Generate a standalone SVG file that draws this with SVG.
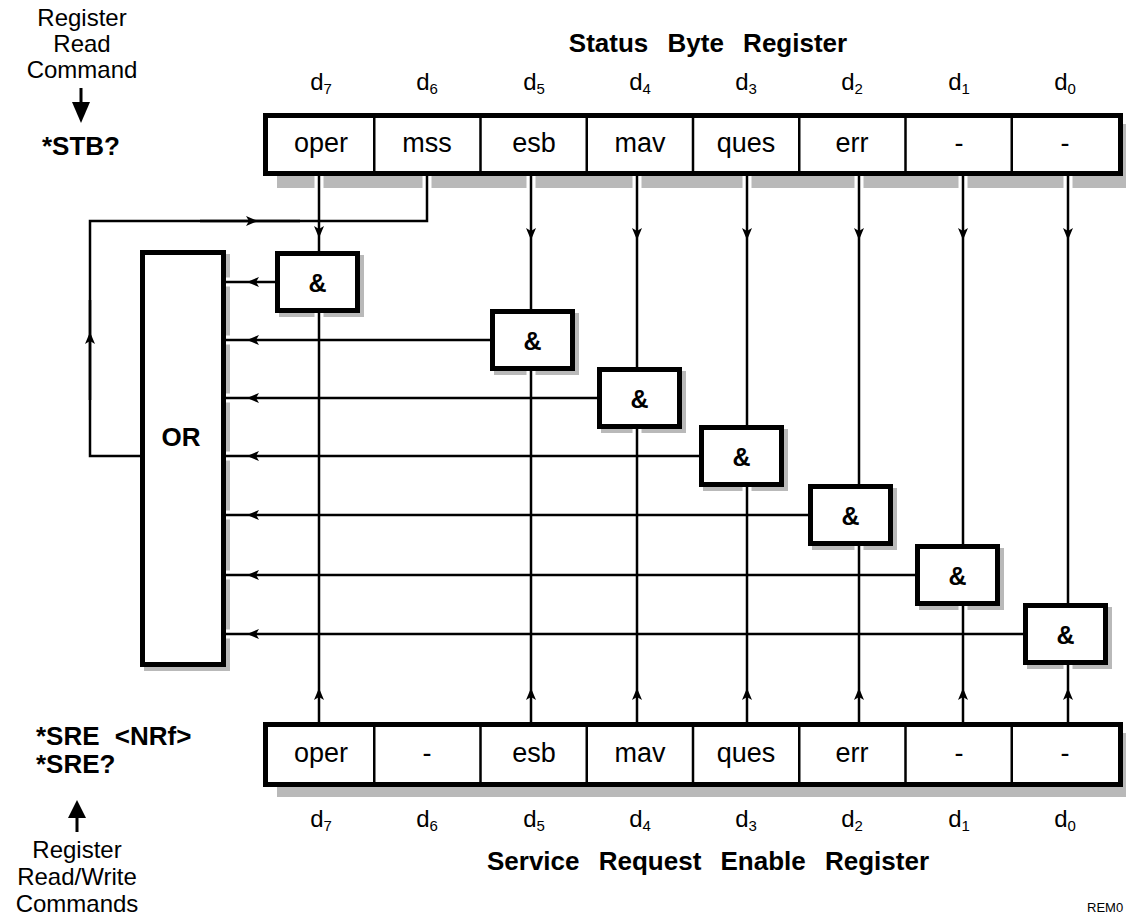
<svg xmlns="http://www.w3.org/2000/svg" width="1126" height="918" viewBox="0 0 1126 918">
<style>
text{font-family:"Liberation Sans",Arial,Helvetica,sans-serif;fill:#000}
.lbl{font-size:24px;text-anchor:middle}
.cell{font-size:27px;text-anchor:middle}
.d{font-size:24px;text-anchor:middle}
.sub{font-size:15px}
.title{font-size:26px;font-weight:bold;text-anchor:middle;word-spacing:12px}
.amp{font-size:25px;font-weight:bold;text-anchor:middle}
.box{fill:#fff;stroke:#000;stroke-width:5}
.sh{fill:#b9b9b9}
.div{stroke:#000;stroke-width:2.5}
.c{fill:none;stroke:#000;stroke-width:2.5}
.halo{fill:none;stroke:#fff;stroke-width:9}
</style>
<defs>
<marker id="ah" markerUnits="userSpaceOnUse" markerWidth="14" markerHeight="12" viewBox="-13 -6 14 12" refX="0" refY="0" orient="auto">
<path d="M0 0L-12 -5L-9 0L-12 5Z" fill="#000"/>
</marker>
</defs>
<rect width="1126" height="918" fill="#fff"/>

<g id="shadows">
<rect class="sh" x="277" y="124" width="860" height="64"/>
<rect class="sh" x="277" y="733" width="860" height="64"/>
<rect class="sh" x="144" y="254" width="86" height="417"/>
<rect class="sh" x="279" y="255" width="85" height="62"/>
<rect class="sh" x="494" y="313" width="85" height="62"/>
<rect class="sh" x="601" y="371" width="85" height="62"/>
<rect class="sh" x="703" y="429" width="85" height="62"/>
<rect class="sh" x="812" y="488" width="85" height="62"/>
<rect class="sh" x="919" y="548" width="85" height="62"/>
<rect class="sh" x="1027" y="607" width="85" height="62"/>
</g>

<g id="halos">
<path class="halo" d="M319 176V251M531 176V309M637 176V366M747 176V425M859 176V484M963 176V544M1068 176V603M427 176V221"/>
<path class="halo" d="M319 313V722M531 371V722M637 429V722M747 487V722M859 546V722M963 606V722M1068 665V722"/>
<path class="halo" d="M275 282H226M490 340H226M597 398H226M699 456H226M808 515H226M915 575H226M1023 634H226"/>
</g>

<g id="status-byte-register">
<rect class="box" x="265.5" y="115.5" width="855" height="58"/>
<path class="div" d="M374.25 118V171M480.5 118V171M586.75 118V171M693 118V171M799.25 118V171M905.5 118V171M1011.75 118V171"/>
<text class="cell" x="321" y="152">oper</text>
<text class="cell" x="427" y="152">mss</text>
<text class="cell" x="534" y="152">esb</text>
<text class="cell" x="640" y="152">mav</text>
<text class="cell" x="746" y="152">ques</text>
<text class="cell" x="852" y="152">err</text>
<text class="cell" x="959" y="152">-</text>
<text class="cell" x="1065" y="152">-</text>
</g>

<g id="service-request-enable-register">
<rect class="box" x="265.5" y="724.5" width="855" height="60"/>
<path class="div" d="M374.25 727V782M480.5 727V782M586.75 727V782M693 727V782M799.25 727V782M905.5 727V782M1011.75 727V782"/>
<text class="cell" x="321" y="762">oper</text>
<text class="cell" x="427" y="762">-</text>
<text class="cell" x="534" y="762">esb</text>
<text class="cell" x="640" y="762">mav</text>
<text class="cell" x="746" y="762">ques</text>
<text class="cell" x="852" y="762">err</text>
<text class="cell" x="959" y="762">-</text>
<text class="cell" x="1065" y="762">-</text>
</g>

<g id="or-gate">
<rect class="box" x="142.5" y="252.5" width="81" height="412"/>
<text class="amp" x="181" y="446" style="font-size:26px">OR</text>
</g>

<g id="and-d7"><rect class="box" x="277.5" y="253.5" width="80" height="57"/><text class="amp" x="317.5" y="292">&amp;</text></g>
<g id="and-d5"><rect class="box" x="492.5" y="311.5" width="80" height="57"/><text class="amp" x="532.5" y="350">&amp;</text></g>
<g id="and-d4"><rect class="box" x="599.5" y="369.5" width="80" height="57"/><text class="amp" x="639.5" y="408">&amp;</text></g>
<g id="and-d3"><rect class="box" x="701.5" y="427.5" width="80" height="57"/><text class="amp" x="741.5" y="466">&amp;</text></g>
<g id="and-d2"><rect class="box" x="810.5" y="486.5" width="80" height="57"/><text class="amp" x="850.5" y="525">&amp;</text></g>
<g id="and-d1"><rect class="box" x="917.5" y="546.5" width="80" height="57"/><text class="amp" x="957.5" y="585">&amp;</text></g>
<g id="and-d0"><rect class="box" x="1025.5" y="605.5" width="80" height="57"/><text class="amp" x="1065.5" y="644">&amp;</text></g>

<g id="connectors">
<path class="c" d="M319 176L319 238L319 251" marker-mid="url(#ah)"/>
<path class="c" d="M531 176L531 240L531 309" marker-mid="url(#ah)"/>
<path class="c" d="M637 176L637 240L637 367" marker-mid="url(#ah)"/>
<path class="c" d="M747 176L747 240L747 425" marker-mid="url(#ah)"/>
<path class="c" d="M859 176L859 240L859 484" marker-mid="url(#ah)"/>
<path class="c" d="M963 176L963 240L963 544" marker-mid="url(#ah)"/>
<path class="c" d="M1068 176L1068 240L1068 603" marker-mid="url(#ah)"/>
<path class="c" d="M319 722L319 688L319 313" marker-mid="url(#ah)"/>
<path class="c" d="M531 722L531 688L531 371" marker-mid="url(#ah)"/>
<path class="c" d="M637 722L637 688L637 429" marker-mid="url(#ah)"/>
<path class="c" d="M747 722L747 688L747 487" marker-mid="url(#ah)"/>
<path class="c" d="M859 722L859 688L859 546" marker-mid="url(#ah)"/>
<path class="c" d="M963 722L963 688L963 606" marker-mid="url(#ah)"/>
<path class="c" d="M1068 722L1068 688L1068 665" marker-mid="url(#ah)"/>
<path class="c" d="M277 282L247 282L226 282" marker-mid="url(#ah)"/>
<path class="c" d="M492 340L247 340L226 340" marker-mid="url(#ah)"/>
<path class="c" d="M599 398L247 398L226 398" marker-mid="url(#ah)"/>
<path class="c" d="M701 456L247 456L226 456" marker-mid="url(#ah)"/>
<path class="c" d="M810 515L247 515L226 515" marker-mid="url(#ah)"/>
<path class="c" d="M917 575L247 575L226 575" marker-mid="url(#ah)"/>
<path class="c" d="M1025 634L247 634L226 634" marker-mid="url(#ah)"/>
<path class="c" d="M140 456H90V221H427V176" stroke-linejoin="miter"/>
<path class="c" d="M90 400L90 332L90 300" marker-mid="url(#ah)"/>
<path class="c" d="M200 221L258 221L300 221" marker-mid="url(#ah)"/>
</g>

<g id="top-bit-labels">
<text class="title" x="708" y="52">Status Byte Register</text>
<text class="d" x="321" y="90">d<tspan class="sub" dy="4">7</tspan></text>
<text class="d" x="427" y="90">d<tspan class="sub" dy="4">6</tspan></text>
<text class="d" x="534" y="90">d<tspan class="sub" dy="4">5</tspan></text>
<text class="d" x="640" y="90">d<tspan class="sub" dy="4">4</tspan></text>
<text class="d" x="746" y="90">d<tspan class="sub" dy="4">3</tspan></text>
<text class="d" x="852" y="90">d<tspan class="sub" dy="4">2</tspan></text>
<text class="d" x="959" y="90">d<tspan class="sub" dy="4">1</tspan></text>
<text class="d" x="1065" y="90">d<tspan class="sub" dy="4">0</tspan></text>
</g>
<g id="bottom-bit-labels">
<text class="d" x="321" y="827">d<tspan class="sub" dy="4">7</tspan></text>
<text class="d" x="427" y="827">d<tspan class="sub" dy="4">6</tspan></text>
<text class="d" x="534" y="827">d<tspan class="sub" dy="4">5</tspan></text>
<text class="d" x="640" y="827">d<tspan class="sub" dy="4">4</tspan></text>
<text class="d" x="746" y="827">d<tspan class="sub" dy="4">3</tspan></text>
<text class="d" x="852" y="827">d<tspan class="sub" dy="4">2</tspan></text>
<text class="d" x="959" y="827">d<tspan class="sub" dy="4">1</tspan></text>
<text class="d" x="1065" y="827">d<tspan class="sub" dy="4">0</tspan></text>
<text class="title" x="708" y="870">Service Request Enable Register</text>
</g>

<g id="read-command">
<text class="lbl" x="82" y="26">Register</text>
<text class="lbl" x="82" y="52">Read</text>
<text class="lbl" x="82" y="78">Command</text>
<rect x="79.5" y="88" width="3" height="16" fill="#000"/>
<path d="M72 102H90L81 123Z" fill="#000"/>
<text x="42" y="155" style="font-size:26px;font-weight:bold">*STB?</text>
</g>
<g id="read-write-commands">
<text x="36" y="745" style="font-size:26px;font-weight:bold;word-spacing:8px">*SRE &lt;NRf&gt;</text>
<text x="36" y="773" style="font-size:26px;font-weight:bold">*SRE?</text>
<path d="M68 818H86L77 800Z" fill="#000"/>
<rect x="75.5" y="816" width="3" height="16" fill="#000"/>
<text class="lbl" x="77" y="858">Register</text>
<text class="lbl" x="77" y="885">Read/Write</text>
<text class="lbl" x="77" y="912">Commands</text>
</g>
<text x="1087" y="912" style="font-size:13px">REM0</text>
</svg>
